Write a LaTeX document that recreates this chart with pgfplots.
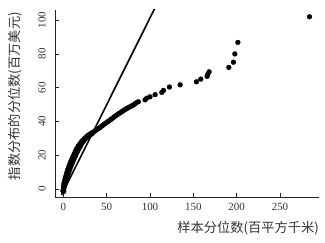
\documentclass[border=0pt]{standalone}
\usepackage{pgfplots}
\pgfplotsset{compat=1.18}
\usepackage{fontspec}
\setmainfont{Liberation Serif}
\newfontfamily\cjk{Noto Sans CJK SC}
\begin{document}
\begin{tikzpicture}
\begin{axis}[
  at={(0,0)}, anchor=south west,
  scale only axis, width=264bp, height=187bp,
  xmin=-9.6, xmax=295, ymin=-4.7, ymax=106,
  axis x line*=bottom, axis y line*=left,
  axis line style={-, line width=0.8bp, black!85},
  tick align=inside, major tick length=4.5bp,
  tick style={line width=0.8bp, black!85},
  xtick={0,50,100,150,200,250}, ytick={0,20,40,60,80,100},
  /pgf/number format/assume math mode=true,
  tick label style={font=\fontsize{11}{13}\selectfont, black!80},
  xticklabel style={inner sep=0pt, anchor=north},
  xticklabel shift=6bp,
  yticklabel style={rotate=90, inner sep=0pt, anchor=south},
  yticklabel shift=9bp,
  xlabel={\cjk 样本分位数(百平方千米)},
  ylabel={\cjk 指数分布的分位数(百万美元)},
  xlabel style={at={(axis description cs:1,-0.1658)}, anchor=east, inner sep=0pt, font=\fontsize{13.3}{15}\selectfont, black!80},
  ylabel style={at={(axis description cs:-0.1515,0.54)}, anchor=center, inner sep=0pt, font=\fontsize{13.3}{15}\selectfont, black!80},
  clip=true,
]
\addplot[black, line width=1.6bp] coordinates {(-2,-3.5) (108,109.5)};
\addplot[only marks, mark=*, mark size=2.4bp, black] coordinates {
(-0.5,-1)(0,0)(0.3,1.5)(0.6,3)(1.3,4.5)(2,6)(2.8,7.5)(3.6,9)(4.5,10.5)(5.5,12)(6.5,13.5)(7.6,15)(8.8,16.5)(10,18)(11.3,19.5)(12.6,21)(14,22.5)(15.5,24)(17,25.3)(18.8,26.6)(20.6,27.8)(22.5,29)(24.5,30)(26.5,31)(28.5,31.8)(30.5,32.5)(32.5,33.2)
(0.5,-1.5)(0.5,0)(1.2,1.5)(2,3)(2.8,4.5)(3.7,6)(4.6,7.5)(5.6,9)(6.6,10.5)(7.7,12)(8.8,13.5)(10,15)(11.2,16.5)(12.5,18)(13.8,19.5)(15.2,21)(16.7,22.5)(18.2,24)(19.8,25.5)(21.5,27)(23.3,28.3)(25.2,29.5)(27.2,30.5)(29.2,31.3)(31,32)(33,32.7)
(34.5,33.6)(36,34.2)(37.5,34.8)(39,35.3)(40.5,35.8)(42,36.3)(43.5,36.9)(45,37.5)(46.5,38.1)(48,38.7)(49.5,39.2)(51,39.8)(52.5,40.3)(54,40.9)(55.5,41.4)(57,42.0)(58.5,42.6)(60,43.2)(61.5,43.8)(63,44.3)(64.5,44.8)(66,45.3)(67.5,45.8)(69,46.3)(70.5,46.8)(72,47.3)(73.5,47.8)(75,48.2)(76.5,48.6)(78,49.0)(79.5,49.4)(81,49.8)(82.5,50.4)(84,51.0)(86.6,51.7)
(94.3,52.8)(96.3,53.8)(100,54.6)(105.9,55.9)(113.6,57.2)(115.5,58.4)(122.4,60.4)(134.8,61.7)(153.6,63.5)(158.6,65.1)(165.9,66.7)(166.7,68)(168.2,69.4)(191,72)(196.3,75.1)(197.9,80)(201.4,86.8)(284,102)
};
\end{axis}
\pgfresetboundingbox
\path (-55bp,-46bp) rectangle (270bp,197bp);
\end{tikzpicture}
\end{document}
